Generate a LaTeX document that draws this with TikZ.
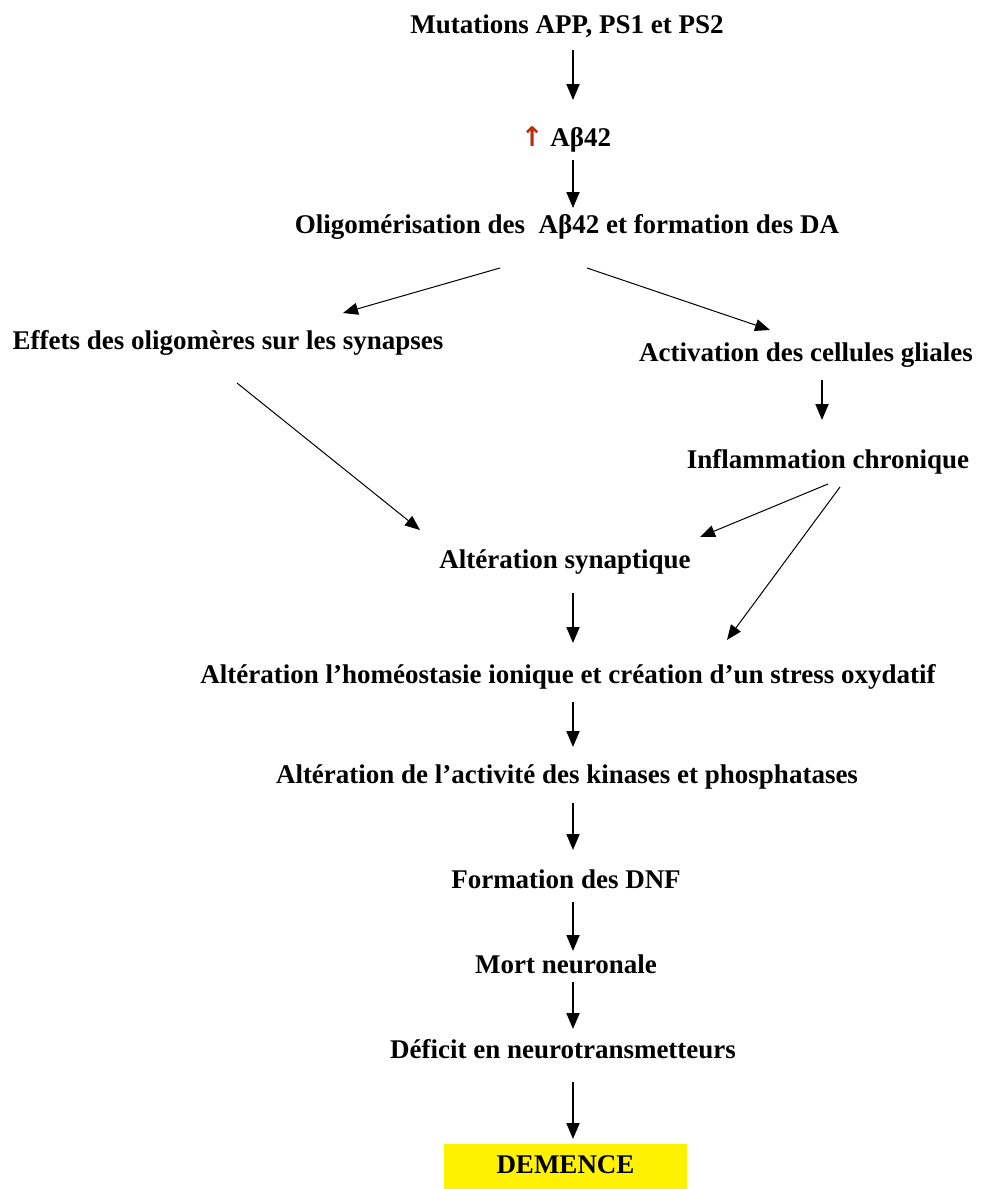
\documentclass[tikz,border=0pt]{standalone}
\usepackage{fontspec}
\setmainfont{Liberation Serif}
\newfontfamily\arrowfont{DejaVu Sans}
\usetikzlibrary{arrows.meta}
\definecolor{uparrow}{RGB}{190,45,10}

\begin{document}
\begin{tikzpicture}[->,>={Triangle[length=8pt,width=6.5pt]},x=0.5pt,y=-0.5pt,line width=0.9pt]
        \tikzstyle{every node}=[inner sep=0pt, text height=9.5pt, text depth=3pt, font=\bfseries\fontsize{13.5}{16}\selectfont]
        \tikzstyle{diag}=[line width=0.5pt, >={Triangle[length=7.5pt,width=6pt]}]
        \tikzstyle{final}=[fill=yellow, minimum width=121.5pt, minimum height=22.5pt]

        \useasboundingbox (0,0) rectangle (991,1189);

        \node (mut)    at (567,27)   {Mutations APP, PS1 et PS2};
        \node (abeta)  at (566,140)  {{\arrowfont\color{uparrow}↑} Aβ42};
        \node (oligo)  at (567,227)  {Oligomérisation des~ Aβ42 et formation des DA};
        \node (eff)    at (228,343)  {Effets des oligomères sur les synapses};
        \node (act)    at (806,355)  {Activation des cellules gliales};
        \node (infl)   at (828,462)  {Inflammation chronique};
        \node (syn)    at (565,562)  {Altération synaptique};
        \node (homeo)  at (568,677)  {Altération l’homéostasie ionique et création d’un stress oxydatif};
        \node (kin)    at (567,777)  {Altération de l’activité des kinases et phosphatases};
        \node (dnf)    at (566,882)  {Formation des DNF};
        \node (mort)   at (566,967)  {Mort neuronale};
        \node (def)    at (563,1052) {Déficit en neurotransmetteurs};
        \node[final] (dem) at (565.5,1166.5) {DEMENCE};

        % main column
        \draw ([shift={(6,23)}]mut.center)   -- ([shift={(7,-40)}]abeta.center);
        \draw ([shift={(7,20)}]abeta.center) -- ([shift={(6,-19)}]oligo.center);
        \draw ([shift={(8,31)}]syn.center)   -- ([shift={(5,-34)}]homeo.center);
        \draw ([shift={(5,25)}]homeo.center) -- ([shift={(6,-30)}]kin.center);
        \draw ([shift={(6,26)}]kin.center)   -- ([shift={(7,-32)}]dnf.center);
        \draw ([shift={(7,20)}]dnf.center)   -- ([shift={(7,-16)}]mort.center);
        \draw ([shift={(7,15)}]mort.center)  -- ([shift={(10,-23)}]def.center);
        \draw ([shift={(10,30)}]def.center)  -- ([shift={(7.5,-27.5)}]dem.center);
        \draw ([shift={(16,25)}]act.center)  -- ([shift={(-6,-42)}]infl.center);

        % side branches
        \draw[diag] ([shift={(-67,41)}]oligo.center) -- ([shift={(115,-30)}]eff.center);
        \draw[diag] ([shift={(20,41)}]oligo.center)  -- ([shift={(-36,-25)}]act.center);
        \draw[diag] ([shift={(9,40)}]eff.center)     -- ([shift={(-145,-32)}]syn.center);
        \draw[diag] ([shift={(0,22)}]infl.center)    -- ([shift={(135,-25)}]syn.center);
        \draw[diag] ([shift={(12,25)}]infl.center)   -- ([shift={(159,-37)}]homeo.center);

\end{tikzpicture}
\end{document}
